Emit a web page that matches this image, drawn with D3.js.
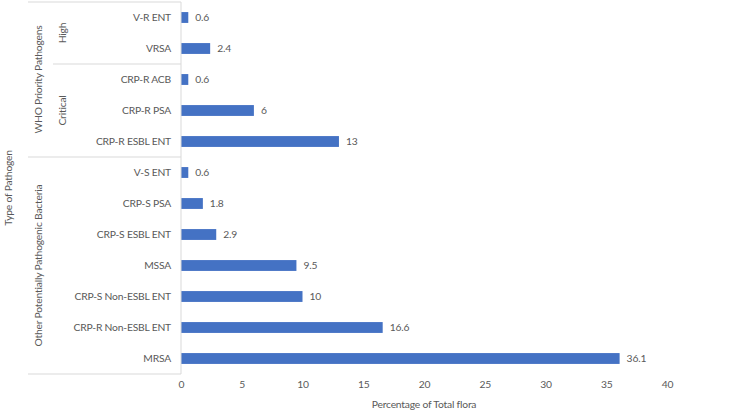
<!DOCTYPE html>
<html><head><meta charset="utf-8">
<script src="https://cdn.jsdelivr.net/npm/d3@7"></script>
<style>body{margin:0;background:#fff}text{font-family:Lato,"Open Sans",sans-serif;fill:#595959;letter-spacing:-0.2px}</style>
</head><body>
<svg id="c" width="750" height="412"></svg>
<script>
const categories = ["V-R ENT","VRSA","CRP-R ACB","CRP-R PSA","CRP-R ESBL ENT","V-S ENT","CRP-S PSA","CRP-S ESBL ENT","MSSA","CRP-S Non-ESBL ENT","CRP-R Non-ESBL ENT","MRSA"];
const values = [0.6,2.4,0.6,6,13,0.6,1.8,2.9,9.5,10,16.6,36.1];
const subGroups = [{name:"High",from:0,to:1},{name:"Critical",from:2,to:4}];
const mainGroups = [{name:"WHO Priority Pathogens",from:0,to:4},{name:"Other Potentially Pathogenic Bacteria",from:5,to:11}];
const xTicks = [0,5,10,15,20,25,30,35,40];
const xTitle = "Percentage of Total flora";
const yTitle = "Type of Pathogen";

const svg = d3.select("#c");
const pL = 181, pR = 667, pT = 2, pB = 374;
const fs = 10.3;
const x = d3.scaleLinear().domain([0,40]).range([pL,pR]);
const y = d3.scaleBand().domain(categories).range([pT,pB]).paddingInner(0.65).paddingOuter(0.325);
const step = y.step();
const edge = i => pT + i*step;
const lc = "#d9d9d9";

// bars
svg.selectAll("rect.bar").data(categories).join("rect").attr("class","bar")
  .attr("x",x(0)).attr("y",d=>y(d)).attr("height",y.bandwidth())
  .attr("width",(d,i)=>x(values[i])-x(0)).attr("fill","#4472C4");
// value labels
svg.selectAll("text.val").data(categories).join("text").attr("class","val")
  .attr("x",(d,i)=>x(values[i])+7).attr("y",d=>y(d)+y.bandwidth()/2).attr("dy","0.35em")
  .attr("font-size",fs).text((d,i)=>values[i]);

// x axis
const xa = svg.append("g").attr("transform",`translate(0,${pB})`)
  .call(d3.axisBottom(x).tickValues(xTicks).tickSize(0).tickPadding(7));
xa.select(".domain").remove();
xa.selectAll("text").attr("font-size",fs).style("font-family","Lato,sans-serif").attr("fill","#595959");

// y axis category labels
const ya = svg.append("g").attr("transform",`translate(${pL},0)`)
  .call(d3.axisLeft(y).tickSize(0).tickPadding(10));
ya.select(".domain").attr("stroke",lc).attr("d",`M0,${pT}V${pB}`);
ya.selectAll("text").attr("font-size",fs).style("font-family","Lato,sans-serif").attr("fill","#595959");

// separator lines
const lines = [[28,pT],[53,edge(2)],[28,edge(5)],[28,pB]];
svg.selectAll("line.sep").data(lines).join("line").attr("class","sep")
  .attr("x1",d=>d[0]).attr("x2",pL).attr("y1",d=>d[1]).attr("y2",d=>d[1])
  .attr("stroke",lc).attr("stroke-width",1);

// group labels
svg.selectAll("text.sub").data(subGroups).join("text").attr("class","sub")
  .attr("transform",d=>`translate(66,${(edge(d.from)+edge(d.to+1))/2}) rotate(-90)`)
  .attr("text-anchor","middle").attr("font-size",fs).text(d=>d.name);
svg.selectAll("text.main").data(mainGroups).join("text").attr("class","main")
  .attr("transform",d=>`translate(42,${(edge(d.from)+edge(d.to+1))/2}) rotate(-90)`)
  .attr("text-anchor","middle").attr("font-size",fs).text(d=>d.name);

// titles
svg.append("text").attr("x",424).attr("y",408).attr("text-anchor","middle").attr("font-size",fs).text(xTitle);
svg.append("text").attr("transform",`translate(12,${(pT+pB)/2}) rotate(-90)`).attr("text-anchor","middle").attr("font-size",fs).text(yTitle);
</script>
</body></html>
